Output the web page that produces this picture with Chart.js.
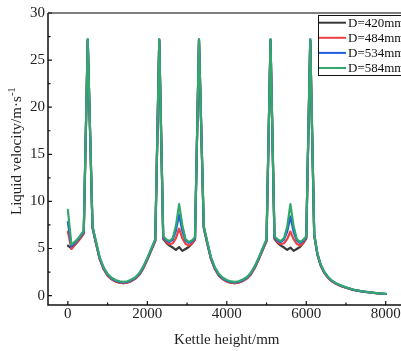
<!DOCTYPE html>
<html><head><meta charset="utf-8">
<script src="https://cdn.jsdelivr.net/npm/chart.js@4"></script>
<style>
html,body{margin:0;padding:0;overflow:hidden;background:#fff;width:401px;height:351px}
#wrap{position:absolute;left:0;top:0;width:412px;height:351px}
</style>
</head><body><div id="wrap"><canvas id="c" width="412" height="351"></canvas></div>
<script>
const HEIGHTS = [0,90,200,300,400,500,620,700,800,900,1000,1100,1200,1300,1400,1500,1600,1700,1800,1900,2000,2100,2200,2300,
  2400,2480,2560,2640,2720,2800,2880,2960,3040,3120,3200,3300,
  3420,3500,3600,3700,3800,3900,4000,4100,4200,4300,4400,4500,4600,4700,4800,4900,5000,5100,
  5200,5280,5360,5440,5520,5600,5680,5760,5840,5920,6000,6100,
  6200,6280,6360,6450,6550,6650,6750,6850,7000,7200,7400,7600,7800,8000];

const V420 = [5.3,5.0,5.5,6.0,6.6,27.1,7.2,5.7,3.9,2.83,2.13,1.75,1.51,1.38,1.33,1.39,1.56,1.81,2.23,2.93,3.83,4.82,5.82,27.1,
  6.0,5.6,5.3,5.1,4.85,5.15,4.75,4.95,5.15,5.5,5.95,27.1,
  7.2,5.7,3.9,2.83,2.13,1.75,1.51,1.37,1.33,1.39,1.56,1.81,2.23,2.93,3.83,4.82,5.82,27.1,
  6.0,5.6,5.3,5.1,4.85,5.1,4.75,4.95,5.15,5.55,6.05,27.1,
  6.4,4.36,3.23,2.45,1.89,1.51,1.26,1.06,0.84,0.59,0.44,0.33,0.24,0.17];

const V484 = [6.8,4.95,5.5,6.0,6.6,27.1,7.2,5.7,3.9,2.82,2.12,1.74,1.5,1.37,1.32,1.38,1.55,1.8,2.22,2.92,3.82,4.8,5.8,27.1,
  6.1,5.7,5.45,5.55,6.1,7.1,6.1,5.5,5.3,5.55,6.0,27.1,
  7.2,5.7,3.9,2.82,2.12,1.74,1.5,1.36,1.32,1.38,1.55,1.8,2.22,2.92,3.82,4.8,5.8,27.1,
  6.1,5.7,5.45,5.55,6.0,6.8,6.0,5.5,5.3,5.6,6.1,27.1,
  6.4,4.35,3.22,2.44,1.88,1.5,1.25,1.05,0.83,0.58,0.43,0.33,0.24,0.17];

const V534 = [7.8,5.2,5.7,6.2,6.8,27.2,7.3,5.8,4.0,2.92,2.22,1.83,1.58,1.45,1.4,1.46,1.63,1.88,2.32,3.02,3.92,4.92,5.92,27.2,
  6.2,5.85,5.7,5.95,6.9,8.6,6.9,5.85,5.6,5.75,6.1,27.2,
  7.3,5.8,4.0,2.92,2.22,1.83,1.58,1.44,1.4,1.46,1.63,1.88,2.32,3.02,3.92,4.92,5.92,27.2,
  6.2,5.85,5.7,5.95,6.8,8.4,6.8,5.85,5.6,5.8,6.2,27.2,
  6.5,4.45,3.3,2.5,1.94,1.55,1.29,1.09,0.86,0.6,0.45,0.34,0.25,0.18];

const V584 = [9.1,5.4,5.8,6.3,6.9,27.2,7.4,5.9,4.1,3.0,2.3,1.9,1.65,1.52,1.46,1.52,1.7,1.95,2.4,3.1,4.0,5.0,6.0,27.2,
  6.3,5.95,5.8,6.1,7.4,9.7,7.5,6.0,5.7,5.85,6.2,27.2,
  7.4,5.9,4.1,3.0,2.3,1.9,1.65,1.5,1.46,1.52,1.7,1.95,2.4,3.1,4.0,5.0,6.0,27.2,
  6.3,5.95,5.8,6.1,7.3,9.7,7.4,6.0,5.7,5.9,6.3,27.2,
  6.6,4.5,3.35,2.55,1.98,1.58,1.32,1.12,0.88,0.62,0.46,0.35,0.26,0.19];

const LABELS = ['D=420mm','D=484mm','D=534mm','D=584mm'];
const COLORS = ['#383838','#ee4040','#1f5fe0','#34a86c'];
const X_TICKS = [0,2000,4000,6000,8000];
const X_MINOR = [1000,3000,5000,7000];
const Y_TICKS = [0,5,10,15,20,25,30];
const Y_MINOR = [2.5,7.5,12.5,17.5,22.5,27.5];
const X_TITLE = 'Kettle height/mm';
const Y_TITLE = 'Liquid velocity/m·s';
const Y_TITLE_SUP = '-1';

const SERIES = [V420, V484, V534, V584];
const FONT = 'Liberation Serif, Times New Roman, serif';

const framePlugin = {
  id: 'frame',
  afterDraw(chart) {
    const {ctx, chartArea: a, scales: {x, y}} = chart;
    ctx.save();
    ctx.strokeStyle = '#111';
    ctx.lineWidth = 1.5;
    ctx.beginPath();
    ctx.moveTo(a.left, a.top); ctx.lineTo(a.left, a.bottom); ctx.lineTo(a.right, a.bottom);
    ctx.stroke();
    ctx.strokeStyle = '#555';
    ctx.beginPath(); ctx.moveTo(a.left, a.top); ctx.lineTo(a.right, a.top); ctx.stroke();
    ctx.lineWidth = 1.2;
    ctx.strokeStyle = '#111';
    ctx.beginPath();
    Y_TICKS.forEach(v => { const p = y.getPixelForValue(v); ctx.moveTo(a.left, p); ctx.lineTo(a.left + 4, p); });
    Y_MINOR.forEach(v => { const p = y.getPixelForValue(v); ctx.moveTo(a.left, p); ctx.lineTo(a.left + 2.5, p); });
    X_TICKS.forEach(v => { const p = x.getPixelForValue(v); ctx.moveTo(p, a.bottom); ctx.lineTo(p, a.bottom - 4); });
    X_MINOR.forEach(v => { const p = x.getPixelForValue(v); ctx.moveTo(p, a.bottom); ctx.lineTo(p, a.bottom - 2.5); });
    ctx.stroke();
    ctx.restore();
  }
};

const yTitlePlugin = {
  id: 'ytitle',
  afterDraw(chart) {
    const ctx = chart.ctx;
    ctx.save();
    ctx.translate(17, 215);
    ctx.rotate(-Math.PI / 2);
    ctx.fillStyle = '#222';
    ctx.textBaseline = 'middle';
    ctx.textAlign = 'left';
    ctx.font = '15px ' + FONT;
    ctx.fillText(Y_TITLE, 0, 0);
    const w = ctx.measureText(Y_TITLE).width;
    ctx.font = '10px ' + FONT;
    ctx.fillText(Y_TITLE_SUP, w + 0.5, -5);
    ctx.restore();
  }
};

const legendPlugin = {
  id: 'boxlegend',
  afterDraw(chart) {
    const ctx = chart.ctx;
    ctx.save();
    ctx.fillStyle = '#fff';
    ctx.fillRect(318, 15, 100, 61);
    ctx.strokeStyle = '#111';
    ctx.lineWidth = 1;
    ctx.strokeRect(318.5, 15.5, 100, 60);
    chart.data.datasets.forEach((ds, i) => {
      const yy = 22.7 + i * 15.1;
      ctx.strokeStyle = ds.borderColor;
      ctx.lineWidth = 2;
      ctx.beginPath(); ctx.moveTo(319, yy); ctx.lineTo(346, yy); ctx.stroke();
      ctx.fillStyle = '#111';
      ctx.font = '13px ' + FONT;
      ctx.textBaseline = 'middle';
      ctx.textAlign = 'left';
      ctx.fillText(ds.label, 348, yy + 0.5);
    });
    ctx.restore();
  }
};

new Chart(document.getElementById('c'), {
  type: 'line',
  data: {
    datasets: SERIES.map((vals, i) => ({
      label: LABELS[i],
      data: HEIGHTS.map((h, j) => ({x: h, y: vals[j]})),
      borderColor: COLORS[i],
      backgroundColor: COLORS[i],
      order: 3 - i
    }))
  },
  options: {
    responsive: false,
    animation: false,
    devicePixelRatio: 1,
    layout: {padding: {top: 13, right: 6.4, left: 0, bottom: 0}},
    plugins: {legend: {display: false}, tooltip: {enabled: false}},
    elements: {
      point: {radius: 0},
      line: {tension: 0, borderWidth: 2.2, borderJoinStyle: 'round', borderCapStyle: 'round', fill: false}
    },
    scales: {
      x: {
        type: 'linear', min: -500, max: 8500,
        afterBuildTicks: s => { s.ticks = X_TICKS.map(v => ({value: v})); },
        afterFit: s => { s.height = 46; },
        grid: {display: false, drawTicks: false},
        border: {display: false},
        ticks: {padding: 0, color: '#222', font: {family: FONT, size: 15}, maxRotation: 0, autoSkip: false, callback: v => String(v)},
        title: {display: true, text: X_TITLE, color: '#222', font: {family: FONT, size: 15}, padding: {top: 0, bottom: 2}}
      },
      y: {
        type: 'linear', min: -1, max: 30,
        afterBuildTicks: s => { s.ticks = Y_TICKS.map(v => ({value: v})); },
        afterFit: s => { s.width = 48; },
        grid: {display: false, drawTicks: false},
        border: {display: false},
        ticks: {padding: 3, color: '#222', font: {family: FONT, size: 15}, autoSkip: false, callback: v => String(v)}
      }
    }
  },
  plugins: [framePlugin, yTitlePlugin, legendPlugin]
});
</script>
</body></html>
